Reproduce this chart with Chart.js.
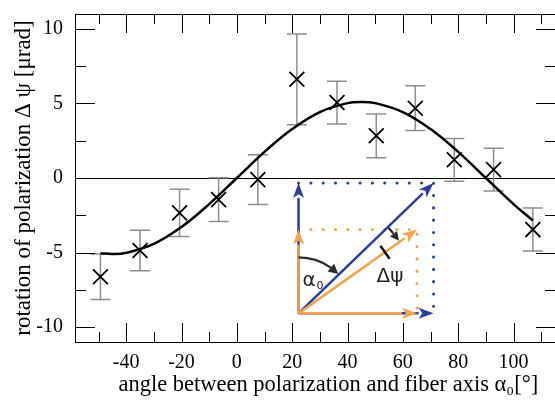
<!DOCTYPE html>
<html>
<head>
<meta charset="utf-8">
<script src="https://cdn.jsdelivr.net/npm/chart.js@4.4.1/dist/chart.umd.min.js"></script>
<style>
    html, body { margin: 0; padding: 0; background: #fff; overflow: hidden; }
    #chart-box { position: relative; width: 555px; height: 405px; }
</style>
</head>
<body>
<div id="chart-box"><canvas id="rotation-canvas"></canvas></div>
<script>
// measured rotation vs. angle
const angles = [-49.3, -35.0, -20.7, -6.6, 7.6, 21.7, 36.2, 50.4, 64.5, 78.6, 92.8, 107.0];
const rotations = [-6.62, -4.86, -2.34, -1.45, -0.11, 6.62, 5.06, 2.83, 4.68, 1.22, 0.56, -3.46];
const errors = [1.53, 1.36, 1.58, 1.46, 1.67, 3.04, 1.43, 1.47, 1.50, 1.43, 1.43, 1.44];

// fitted curve, sampled from the figure
const fitAngles = [-49.3, -45, -40, -30, -20, -10, 0, 10, 20, 30, 40, 45, 50, 60, 70, 80, 90, 100, 107];
const fitValues = [-5.04, -5.1, -5.02, -4.42, -3.28, -1.75, 0, 1.75, 3.28, 4.42, 5.02, 5.1, 5.02, 4.42, 3.28, 1.75, 0, -1.75, -2.85];

const xTicks = [-40, -20, 0, 20, 40, 60, 80, 100];
const yTicks = [-10, -5, 0, 5, 10];

const SERIF = "'Liberation Serif', 'Times New Roman', serif";
const BLUE = '#2c3f98';
const ORANGE = '#f5a34d';

// gray error bars, drawn under the markers
const errorBarPlugin = {
    id: 'errorBars',
    beforeDatasetsDraw(chart) {
        const { ctx, scales: { x, y } } = chart;
        ctx.save();
        ctx.strokeStyle = '#8e8e8e';
        ctx.lineWidth = 1.5;
        angles.forEach((a, i) => {
            const px = x.getPixelForValue(a);
            const top = y.getPixelForValue(rotations[i] + errors[i]);
            const bot = y.getPixelForValue(rotations[i] - errors[i]);
            ctx.beginPath();
            ctx.moveTo(px, top); ctx.lineTo(px, bot);
            ctx.moveTo(px - 10, top); ctx.lineTo(px + 10, top);
            ctx.moveTo(px - 10, bot); ctx.lineTo(px + 10, bot);
            ctx.stroke();
        });
        ctx.restore();
    }
};

// box frame with inward ticks on all four sides (right edge sits just outside the canvas)
const frameTicksPlugin = {
    id: 'frameTicks',
    afterDatasetsDraw(chart) {
        const { ctx, chartArea: a, scales: { x, y } } = chart;
        ctx.save();
        ctx.strokeStyle = '#000';
        ctx.lineWidth = 1;
        ctx.strokeRect(a.left + 0.5, a.top + 0.5, a.right - a.left + 1, a.bottom - a.top);

        const xMinor = xTicks.map(v => v - 10).concat([xTicks[xTicks.length - 1] + 10]);
        const yMinor = yTicks.slice(1).map((v, i) => (v + yTicks[i]) / 2);

        ctx.beginPath();
        const xMark = (v, len) => {
            const px = Math.round(x.getPixelForValue(v)) + 0.5;
            ctx.moveTo(px, a.bottom); ctx.lineTo(px, a.bottom - len);
            ctx.moveTo(px, a.top); ctx.lineTo(px, a.top + len);
        };
        const yMark = (v, len) => {
            const py = Math.round(y.getPixelForValue(v)) + 0.5;
            ctx.moveTo(a.left, py); ctx.lineTo(a.left + len, py);
            ctx.moveTo(a.right + 1, py); ctx.lineTo(a.right + 1 - len, py);
        };
        xTicks.forEach(v => xMark(v, 19));
        xMinor.forEach(v => xMark(v, 10));
        yTicks.forEach(v => yMark(v, 20));
        yMinor.forEach(v => yMark(v, 11));
        ctx.stroke();
        ctx.restore();
    }
};

function arrow(ctx, x1, y1, x2, y2, color, width, headLen, headHalf) {
    const ang = Math.atan2(y2 - y1, x2 - x1);
    const bx = x2 - Math.cos(ang) * headLen;
    const by = y2 - Math.sin(ang) * headLen;
    ctx.strokeStyle = color;
    ctx.fillStyle = color;
    ctx.lineWidth = width;
    ctx.beginPath();
    ctx.moveTo(x1, y1);
    ctx.lineTo(bx, by);
    ctx.stroke();
    ctx.beginPath();
    ctx.moveTo(x2, y2);
    ctx.lineTo(bx - Math.sin(ang) * headHalf, by + Math.cos(ang) * headHalf);
    ctx.lineTo(x2 - Math.cos(ang) * headLen * 0.75, y2 - Math.sin(ang) * headLen * 0.75);
    ctx.lineTo(bx + Math.sin(ang) * headHalf, by - Math.cos(ang) * headHalf);
    ctx.closePath();
    ctx.fill();
}

function arcArrow(ctx, cx, cy, r, a0, a1, color, width, headLen, headHalf) {
    ctx.strokeStyle = color;
    ctx.fillStyle = color;
    ctx.lineWidth = width;
    const stop = a1 - headLen / r;
    ctx.beginPath();
    ctx.arc(cx, cy, r, a0, stop, false);
    ctx.stroke();
    const tx = cx + r * Math.cos(a1), ty = cy + r * Math.sin(a1);
    const bx = cx + r * Math.cos(stop), by = cy + r * Math.sin(stop);
    const ang = Math.atan2(ty - by, tx - bx);
    ctx.beginPath();
    ctx.moveTo(tx, ty);
    ctx.lineTo(bx - Math.sin(ang) * headHalf, by + Math.cos(ang) * headHalf);
    ctx.lineTo(bx + Math.sin(ang) * headHalf, by - Math.cos(ang) * headHalf);
    ctx.closePath();
    ctx.fill();
}

// the little vector sketch in the lower part of the plot
const insetPlugin = {
    id: 'inset',
    afterDatasetsDraw(chart) {
        const { ctx, scales: { x, y } } = chart;
        const ox = x.getPixelForValue(22.3), oy = y.getPixelForValue(-9.08);
        const bx = x.getPixelForValue(71.1), by = y.getPixelForValue(-0.33);
        const rx = x.getPixelForValue(65.1), ry = y.getPixelForValue(-3.46);
        ctx.save();

        // dotted projections
        ctx.lineCap = 'round';
        ctx.lineWidth = 3;
        ctx.setLineDash([0.1, 12.2]);
        ctx.strokeStyle = BLUE;
        ctx.beginPath();
        ctx.moveTo(ox, by); ctx.lineTo(bx, by); ctx.lineTo(bx, oy);
        ctx.stroke();
        ctx.strokeStyle = ORANGE;
        ctx.beginPath();
        ctx.moveTo(ox, ry); ctx.lineTo(rx, ry); ctx.lineTo(rx, oy);
        ctx.stroke();
        ctx.setLineDash([]);
        ctx.lineCap = 'butt';

        // blue (incoming) vectors
        arrow(ctx, ox, oy, ox, by, BLUE, 2.5, 15, 5.5);
        arrow(ctx, ox, oy, bx, oy, BLUE, 2.5, 15, 5.5);
        arrow(ctx, ox, oy, bx, by, BLUE, 2.5, 15, 5.5);
        // orange (rotated) vectors
        arrow(ctx, ox, oy, ox, ry, ORANGE, 2.5, 15, 5.5);
        arrow(ctx, ox, oy, rx, oy, ORANGE, 2.5, 15, 5.5);
        arrow(ctx, ox, oy, rx, ry, ORANGE, 2.5, 15, 5.5);

        const aBlue = Math.atan2(by - oy, bx - ox);
        const aOrange = Math.atan2(ry - oy, rx - ox);
        arcArrow(ctx, ox, oy, 56, -Math.PI / 2, aBlue - 0.01, '#2b2b2b', 2.2, 10, 5);
        arcArrow(ctx, ox, oy, 124, aBlue + 0.01, aOrange - 0.01, '#2b2b2b', 2.2, 9, 4.5);

        // small mark across the orange vector
        const t = 0.73;
        const mx = ox + (rx - ox) * t, my = oy + (ry - oy) * t;
        ctx.strokeStyle = '#111';
        ctx.lineWidth = 2.5;
        ctx.beginPath();
        ctx.moveTo(mx - Math.sin(aOrange) * 8, my + Math.cos(aOrange) * 8);
        ctx.lineTo(mx + Math.sin(aOrange) * 8, my - Math.cos(aOrange) * 8);
        ctx.stroke();

        // labels
        ctx.fillStyle = '#222';
        ctx.textBaseline = 'alphabetic';
        ctx.font = "20px 'DejaVu Sans', sans-serif";
        ctx.fillText('α', ox + 4, oy - 27);
        ctx.font = "11px 'DejaVu Sans', sans-serif";
        ctx.fillText('0', ox + 18, oy - 24);
        ctx.font = "20px 'DejaVu Sans', sans-serif";
        ctx.fillText('Δψ', ox + 78, oy - 31);
        ctx.restore();
    }
};

const canvas = document.getElementById('rotation-canvas');
const ctx = canvas.getContext('2d');

new Chart(ctx, {
    type: 'scatter',
    data: {
        datasets: [
            {
                label: 'measured',
                data: angles.map((a, i) => ({ x: a, y: rotations[i] })),
                pointStyle: 'crossRot',
                pointRadius: 10.5,
                pointBorderWidth: 1.8,
                borderColor: '#000',
                backgroundColor: '#000',
                showLine: false
            },
            {
                label: 'fit',
                data: fitAngles.map((a, i) => ({ x: a, y: fitValues[i] })),
                showLine: true,
                pointRadius: 0,
                borderColor: '#000',
                borderWidth: 2.5,
                tension: 0.4,
                fill: false
            }
        ]
    },
    options: {
        responsive: true,
        maintainAspectRatio: false,
        animation: false,
        layout: { autoPadding: false, padding: { top: 14, left: 0, right: 0, bottom: 0 } },
        plugins: {
            legend: { display: false },
            tooltip: { enabled: false }
        },
        scales: {
            x: {
                type: 'linear',
                min: -58.5,
                max: 115,
                afterBuildTicks: s => { s.ticks = xTicks.map(v => ({ value: v })); },
                afterFit: s => { s.height = 63; s.paddingLeft = 0; s.paddingRight = 0; },
                grid: { display: false, drawTicks: false },
                border: { display: false },
                ticks: {
                    color: '#000',
                    padding: 9,
                    maxRotation: 0,
                    autoSkip: false,
                    font: { family: SERIF, size: 20 }
                },
                title: {
                    display: true,
                    align: 'end',
                    text: 'angle between polarization and fiber axis α₀[°]   ',
                    color: '#000',
                    font: { family: SERIF, size: 22.5, lineHeight: 1.2 },
                    padding: { top: 0, bottom: 6 }
                }
            },
            y: {
                type: 'linear',
                min: -11,
                max: 11,
                afterBuildTicks: s => { s.ticks = yTicks.map(v => ({ value: v })); },
                afterFit: s => { s.width = 75; s.paddingTop = 0; s.paddingBottom = 0; },
                grid: {
                    drawTicks: false,
                    lineWidth: 1,
                    color: c => (c.tick && c.tick.value === 0 ? '#000' : 'rgba(0,0,0,0)')
                },
                border: { display: false },
                ticks: {
                    color: '#000',
                    padding: 12,
                    font: { family: SERIF, size: 20 }
                },
                title: {
                    display: true,
                    text: 'rotation of polarization Δ ψ [μrad]',
                    color: '#000',
                    font: { family: SERIF, size: 23, lineHeight: 1.2 },
                    padding: { top: 10, bottom: 0 }
                }
            }
        }
    },
    plugins: [errorBarPlugin, frameTicksPlugin, insetPlugin]
});
</script>
</body>
</html>
